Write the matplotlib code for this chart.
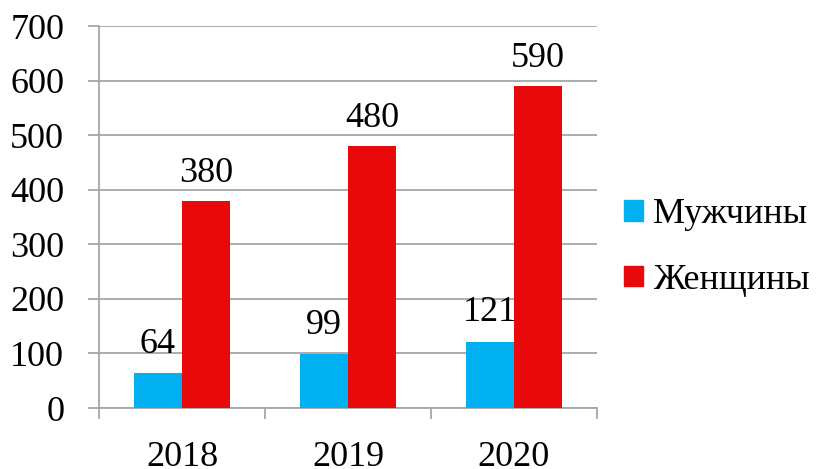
import numpy as np
import matplotlib.pyplot as plt
from matplotlib.patches import Patch

plt.rcParams['font.family'] = ['Liberation Serif', 'DejaVu Serif']

# данные
years = ['2018', '2019', '2020']
men = [64, 99, 121]
women = [380, 480, 590]
labels = ['Мужчины', 'Женщины']
colors = ['#00B0F0', '#E80A0A']
yticks = [0, 100, 200, 300, 400, 500, 600, 700]

fig = plt.figure(figsize=(8.19, 4.69), dpi=100)
ax = fig.add_axes([0.1209, 0.130, 0.608, 0.8145])

x = np.arange(len(years)) + 0.5
w = 0.29
ax.bar(x - w / 2, men, w, color=colors[0], zorder=3)
ax.bar(x + w / 2, women, w, color=colors[1], zorder=3)

# подписи значений
for xi, v in zip(x - w / 2, men):
    ax.annotate(str(v), (xi, v), xytext=(0, 9), textcoords='offset points',
                ha='center', va='bottom', fontsize=26)
for xi, v in zip(x + w / 2, women):
    ax.annotate(str(v), (xi, v), xytext=(0, 8), textcoords='offset points',
                ha='center', va='bottom', fontsize=26)

gc = '#a6a6a6'
ax.set_xlim(0, 3)
ax.set_ylim(0, 700)
ax.set_yticks(yticks)
ax.set_yticklabels([str(t) for t in yticks], fontsize=26)
ax.set_xticks(x)
ax.set_xticklabels(years, fontsize=26)
ax.set_xticks([0, 1, 2, 3], minor=True)
ax.tick_params(axis='x', which='major', length=0, pad=24)
ax.tick_params(axis='x', which='minor', length=8, width=1.3, color=gc, direction='out')
ax.tick_params(axis='y', length=8, width=1.3, color=gc, pad=17)
ax.grid(axis='y', color=gc, linewidth=1.3, zorder=0)
for s in ['top', 'right']:
    ax.spines[s].set_visible(False)
for s in ['left', 'bottom']:
    ax.spines[s].set_color(gc)
    ax.spines[s].set_linewidth(1.3)

handles = [Patch(color=c) for c in colors]
ax.legend(handles, labels, loc='center left', bbox_to_anchor=(0.99, 0.42),
          frameon=False, fontsize=26, handlelength=0.5, handleheight=0.5,
          handletextpad=0.28, labelspacing=0.9)

fig.savefig('out.png', dpi=100)
